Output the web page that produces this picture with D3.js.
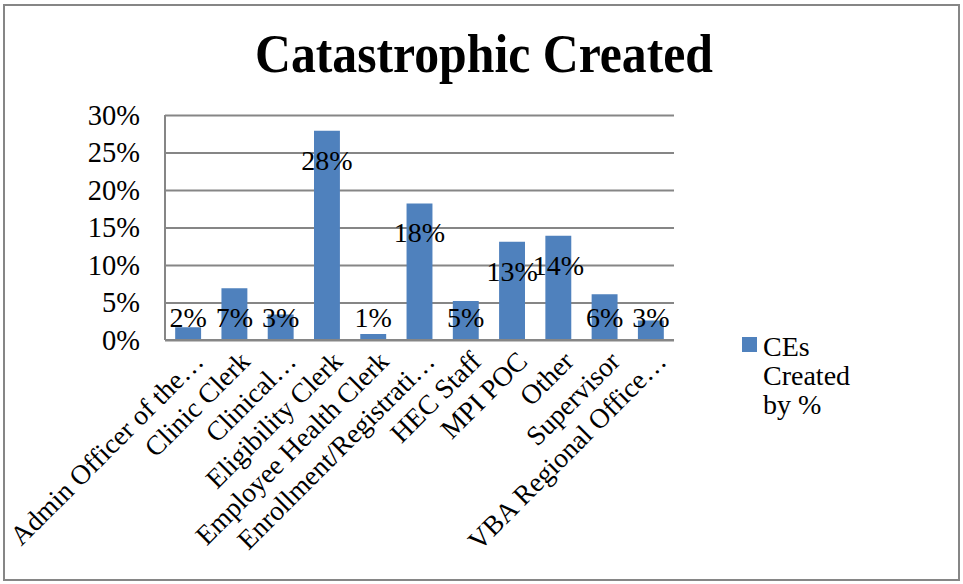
<!DOCTYPE html>
<html>
<head>
<meta charset="utf-8">
<script src="https://cdn.jsdelivr.net/npm/d3@7"></script>
<style>
  html, body { margin: 0; padding: 0; background: #fff; }
  svg { display: block; }
  text { font-family: "Liberation Serif", "Times New Roman", serif; fill: #000; }
</style>
</head>
<body>
<svg id="chart" width="963" height="584"></svg>
<script>
// Role categories (long names shown truncated as on the axis)
const categories = [
  "Admin Officer of the\u2026",
  "Clinic Clerk",
  "Clinical\u2026",
  "Eligibility Clerk",
  "Employee Health Clerk",
  "Enrollment/Registrati\u2026",
  "HEC Staff",
  "MPI POC",
  "Other",
  "Supervisor",
  "VBA Regional Office\u2026"
];
// Share of catastrophic edits created by each role
const ceCreatedPct = [0.017, 0.069, 0.034, 0.279, 0.008, 0.182, 0.052, 0.131, 0.139, 0.061, 0.026];
const yTicks = [0, 0.05, 0.10, 0.15, 0.20, 0.25, 0.30];
const seriesName = ["CEs", "Created", "by %"];
const chartTitle = "Catastrophic Created";

const svg = d3.select("#chart");
const barColor = "#4F81BD";
const lineColor = "#868686";
const fmt = d3.format(".0%");

const plot = { left: 165, right: 674, top: 115, bottom: 340 };

const x = d3.scaleBand()
  .domain(categories)
  .range([plot.left, plot.right])
  .paddingInner(0.44)
  .paddingOuter(0.22);

const y = d3.scaleLinear()
  .domain([0, 0.30])
  .range([plot.bottom, plot.top]);

// outer chart frame
svg.append("rect")
  .attr("x", 4).attr("y", 5)
  .attr("width", 955).attr("height", 575)
  .attr("fill", "none")
  .attr("stroke", lineColor)
  .attr("stroke-width", 2);

// title
svg.append("text")
  .attr("x", 484).attr("y", 72)
  .attr("text-anchor", "middle")
  .attr("font-size", 55)
  .attr("font-weight", "bold")
  .attr("textLength", 458)
  .attr("lengthAdjust", "spacingAndGlyphs")
  .text(chartTitle);

// horizontal gridlines and y labels
const yAxis = d3.axisLeft(y)
  .tickValues(yTicks)
  .tickFormat(d3.format(".0%"))
  .tickSize(-(plot.right - plot.left))
  .tickPadding(25);

const gy = svg.append("g")
  .attr("transform", `translate(${plot.left},0)`)
  .call(yAxis);
gy.select(".domain").remove();
gy.selectAll(".tick line")
  .attr("stroke", lineColor)
  .attr("stroke-width", 2);
gy.selectAll(".tick text")
  .attr("font-size", 28.5)
  .attr("font-family", "Liberation Serif, serif")
  .attr("fill", "#000");

// left axis line
svg.append("line")
  .attr("x1", plot.left).attr("x2", plot.left)
  .attr("y1", plot.top).attr("y2", plot.bottom)
  .attr("stroke", lineColor).attr("stroke-width", 2);

// bars
svg.append("g").selectAll("rect")
  .data(ceCreatedPct)
  .join("rect")
  .attr("x", (d, i) => x(categories[i]))
  .attr("y", d => y(d))
  .attr("width", x.bandwidth())
  .attr("height", d => y(0) - y(d))
  .attr("fill", barColor);

// x axis baseline
svg.append("line")
  .attr("x1", plot.left).attr("x2", plot.right)
  .attr("y1", plot.bottom).attr("y2", plot.bottom)
  .attr("stroke", lineColor).attr("stroke-width", 2);

// value labels, placed just inside the bar end
svg.append("g").selectAll("text")
  .data(ceCreatedPct)
  .join("text")
  .attr("x", (d, i) => x(categories[i]) + x.bandwidth() / 2)
  .attr("y", d => Math.min(y(d) + 29, y(0) - 23))
  .attr("dy", "0.35em")
  .attr("text-anchor", "middle")
  .attr("font-size", 28)
  .text(d => fmt(d));

// rotated category labels
svg.append("g").selectAll("text")
  .data(categories)
  .join("text")
  .attr("transform", d => {
    const cx = x(d) + x.bandwidth() / 2;
    return `translate(${cx + 17},${plot.bottom + 23}) rotate(-45)`;
  })
  .attr("text-anchor", "end")
  .attr("font-size", 27.5)
  .text(d => d);

// legend
const lg = svg.append("g").attr("transform", "translate(742,337)");
lg.append("rect")
  .attr("width", 15).attr("height", 15)
  .attr("fill", barColor);
lg.selectAll("text")
  .data(seriesName)
  .join("text")
  .attr("x", 21)
  .attr("y", (d, i) => 19 + i * 29)
  .attr("font-size", 28)
  .text(d => d);
</script>
</body>
</html>
